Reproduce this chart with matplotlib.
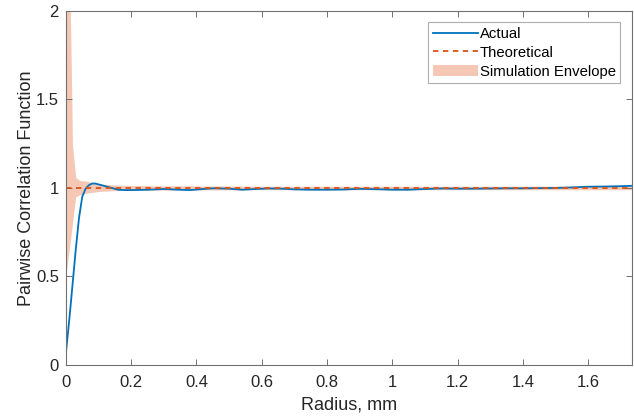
import matplotlib
matplotlib.use("Agg")
import matplotlib.pyplot as plt
from matplotlib.ticker import FuncFormatter

plt.rcParams['font.family'] = ['Liberation Sans', 'DejaVu Sans']

# radius (mm) and curves
radius = [0.0, 0.005, 0.01, 0.015, 0.02, 0.025, 0.03, 0.04, 0.05, 0.06, 0.07,
          0.08, 0.09, 0.10, 0.12, 0.14, 0.16, 0.18, 0.20, 0.25, 0.30, 0.35,
          0.38, 0.42, 0.45, 0.50, 0.54, 0.58, 0.62, 0.66, 0.70, 0.75, 0.80,
          0.85, 0.90, 0.95, 1.00, 1.05, 1.10, 1.15, 1.20, 1.25, 1.30, 1.35,
          1.40, 1.45, 1.50, 1.55, 1.60, 1.65, 1.70, 1.75]
actual = [0.07, 0.16, 0.25, 0.35, 0.45, 0.55, 0.65, 0.83, 0.95, 0.995, 1.015,
          1.025, 1.025, 1.02, 1.01, 1.0, 0.99, 0.988, 0.988, 0.99, 0.994, 0.99,
          0.988, 0.994, 0.998, 0.996, 0.99, 0.994, 0.997, 0.996, 0.992, 0.99, 0.99,
          0.991, 0.995, 0.993, 0.99, 0.99, 0.994, 0.997, 0.996, 0.996, 0.997, 0.998,
          0.998, 0.999, 1.0, 1.003, 1.007, 1.008, 1.01, 1.013]
theoretical = [1.0] * len(radius)
env_upper = [2.8, 2.6, 2.3, 1.85, 1.25, 1.15, 1.06, 1.045, 1.04, 1.04, 1.035,
             1.03, 1.028, 1.025, 1.02, 1.018, 1.016, 1.015, 1.014, 1.013, 1.012, 1.012,
             1.012, 1.011, 1.011, 1.011, 1.011, 1.01, 1.01, 1.01, 1.01, 1.01, 1.01,
             1.01, 1.01, 1.01, 1.01, 1.01, 1.01, 1.01, 1.01, 1.01, 1.01, 1.01,
             1.01, 1.01, 1.01, 1.01, 1.01, 1.01, 1.01, 1.01]
env_lower = [0.5, 0.58, 0.65, 0.72, 0.8, 0.88, 0.95, 0.96, 0.965, 0.97, 0.972,
             0.975, 0.977, 0.98, 0.982, 0.984, 0.985, 0.986, 0.986, 0.987, 0.988, 0.988,
             0.988, 0.989, 0.989, 0.989, 0.989, 0.99, 0.99, 0.99, 0.99, 0.99, 0.99,
             0.99, 0.99, 0.99, 0.99, 0.99, 0.99, 0.99, 0.99, 0.99, 0.99, 0.99,
             0.99, 0.99, 0.99, 0.99, 0.99, 0.99, 0.99, 0.99]

fig = plt.figure(figsize=(6.34, 4.2), dpi=100)
ax = fig.add_axes([0.104, 0.131, 0.893, 0.843])

ax.fill_between(radius, env_lower, env_upper, color='#F5C8B6', linewidth=0,
                label='Simulation Envelope')
ax.plot(radius, actual, color='#0072BD', linewidth=1.3, label='Actual')
ax.plot(radius, theoretical, color='#D95319', linewidth=1.3, linestyle=(0, (3, 2.5)),
        label='Theoretical')

ax.set_xlim(0, 1.735)
ax.set_ylim(0, 2)
ax.set_xticks([0, 0.2, 0.4, 0.6, 0.8, 1.0, 1.2, 1.4, 1.6])
ax.set_yticks([0, 0.5, 1, 1.5, 2])
fmt = FuncFormatter(lambda v, p: '%g' % v)
ax.xaxis.set_major_formatter(fmt)
ax.yaxis.set_major_formatter(fmt)
ax.tick_params(direction='in', top=True, right=True, length=4, width=0.7,
               color='#707070', labelcolor='#262626', labelsize=12)
ax.tick_params(axis='x', pad=7)
ax.tick_params(axis='y', pad=5)
for s in ax.spines.values():
    s.set_color('#707070')
    s.set_linewidth(0.8)

ax.set_xlabel('Radius, mm', fontsize=13, color='#262626', labelpad=5)
ax.set_ylabel('Pairwise Correlation Function', fontsize=13, color='#262626', labelpad=1)

handles, labels = ax.get_legend_handles_labels()
order = [1, 2, 0]
leg = ax.legend([handles[i] for i in order], [labels[i] for i in order],
                loc='upper right', fontsize=10.7, frameon=True, fancybox=False,
                edgecolor='#9A9A9A', borderpad=0.3, handlelength=3.0,
                labelspacing=0.33, handletextpad=0.15, borderaxespad=0,
                bbox_to_anchor=(0.979, 0.968))
leg.get_frame().set_linewidth(0.8)

fig.savefig('out.png', dpi=100)
